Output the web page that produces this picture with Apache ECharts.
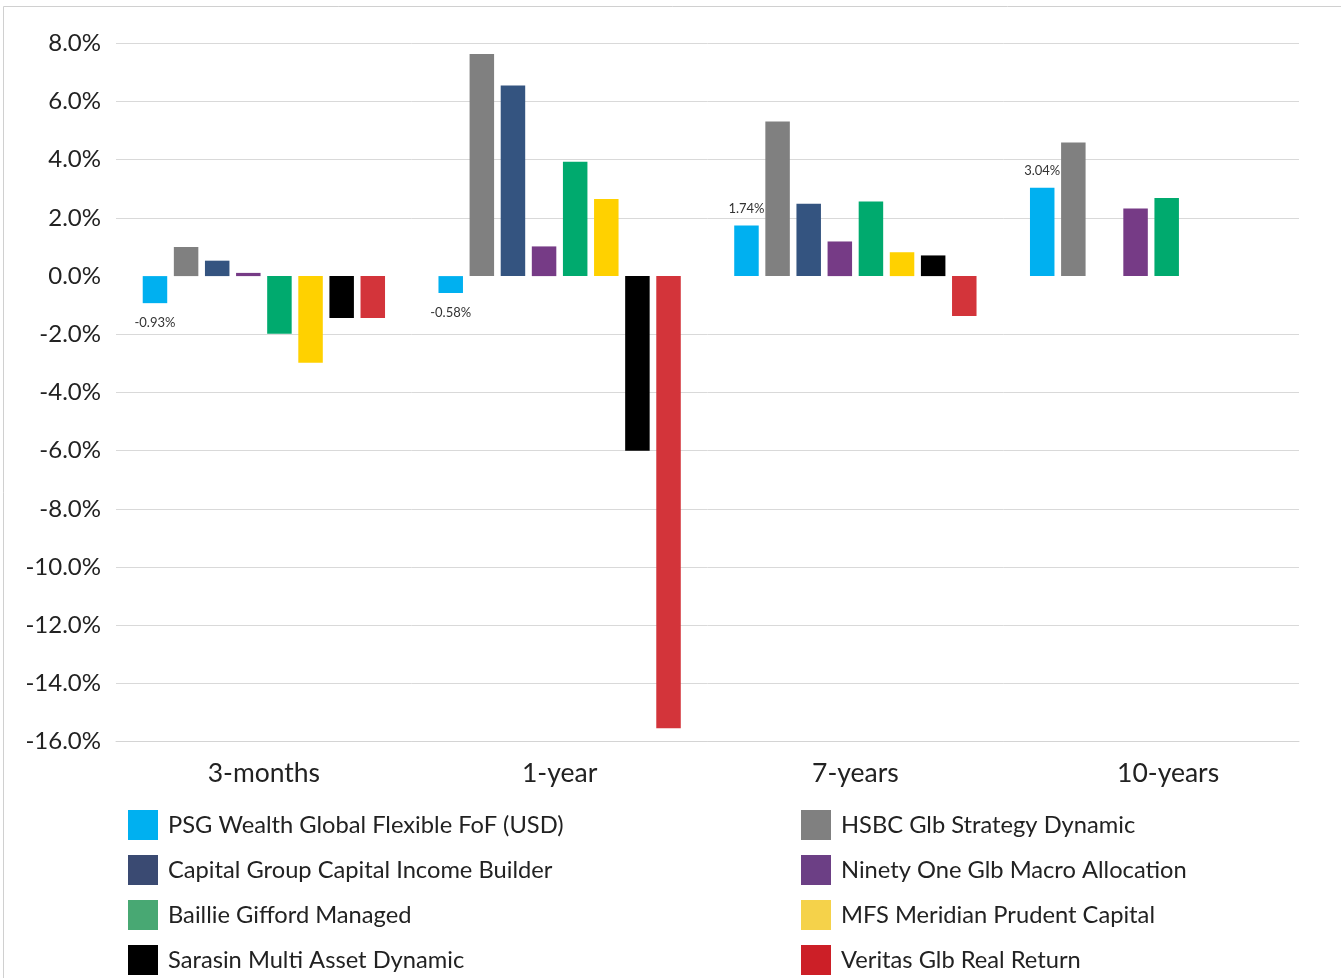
<!DOCTYPE html>
<html>
<head>
<meta charset="utf-8">
<script src="https://cdn.jsdelivr.net/npm/echarts@6/dist/echarts.min.js"></script>
<style>
html,body{margin:0;padding:0;background:#fff;}
#chart{width:1341px;height:978px;}
</style>
</head>
<body>
<div id="chart"></div>
<script>
const categories = ['3-months', '1-year', '7-years', '10-years'];
const seriesNames = [
  'PSG Wealth Global Flexible FoF (USD)',
  'HSBC Glb Strategy Dynamic',
  'Capital Group Capital Income Builder',
  'Ninety One Glb Macro Allocation',
  'Baillie Gifford Managed',
  'MFS Meridian Prudent Capital',
  'Sarasin Multi Asset Dynamic',
  'Veritas Glb Real Return'
];
const psg = [-0.93, -0.58, 1.74, 3.04];
const hsbc = [1.00, 7.63, 5.31, 4.59];
const capital = [0.53, 6.55, 2.49, null];
const ninety = [0.11, 1.02, 1.19, 2.32];
const baillie = [-1.98, 3.93, 2.56, 2.68];
const mfs = [-2.98, 2.65, 0.82, null];
const sarasin = [-1.44, -6.00, 0.71, null];
const veritas = [-1.44, -15.54, -1.37, null];
const barColors = ['#00B0F0', '#808080', '#345480', '#763B86', '#00AA6E', '#FFD100', '#000000', '#D3343A'];
const legendColors = ['#00B0F0', '#808080', '#3A4A72', '#6C3F85', '#48A873', '#F5D24A', '#000000', '#CC1F27'];
const yMin = -16, yMax = 8, yStep = 2;

const allValues = [psg, hsbc, capital, ninety, baillie, mfs, sarasin, veritas];
const FONT = 'Lato';

const chart = echarts.init(document.getElementById('chart'));

const series = allValues.map((vals, i) => {
  const s = {
    name: seriesNames[i],
    type: 'bar',
    data: vals.map(v => v),
    barWidth: 24.5,
    barGap: '27%',
    itemStyle: { color: barColors[i] },
    emphasis: { disabled: true }
  };
  if (i === 0) {
    s.data = vals.map(v => ({
      value: v,
      label: {
        show: true,
        position: v < 0 ? 'bottom' : 'top',
        distance: v < 0 ? 13 : 10,
        formatter: p => p.value.toFixed(2) + '%',
        fontFamily: FONT,
        fontSize: 13,
        color: '#333'
      }
    }));
    s.markLine = {
      silent: true,
      symbol: 'none',
      z: 1,
      label: { show: false },
      lineStyle: { color: '#ffffff', width: 3, type: 'solid' },
      data: [{ yAxis: 0 }]
    };
  }
  return s;
});

const legendItem = i => ({ name: seriesNames[i], itemStyle: { color: legendColors[i] } });
const legendCommon = {
  orient: 'vertical',
  top: 810,
  padding: 0,
  itemWidth: 30,
  itemHeight: 30,
  itemGap: 15,
  icon: 'rect',
  selectedMode: false,
  textStyle: { fontFamily: FONT, fontSize: 23.7, color: '#222', padding: [0, 0, 0, 5] }
};

chart.setOption({
  animation: false,
  backgroundColor: '#ffffff',
  graphic: [{
    type: 'rect',
    shape: { x: 3.5, y: 6.5, width: 1500, height: 1200 },
    style: { fill: 'none', stroke: '#d0d0d0', lineWidth: 1 },
    silent: true
  }],
  grid: { left: 116, right: 42, top: 43.3, bottom: 236.3, containLabel: false },
  legend: [
    Object.assign({}, legendCommon, { left: 128, data: [0, 2, 4, 6].map(legendItem) }),
    Object.assign({}, legendCommon, { left: 801, data: [1, 3, 5, 7].map(legendItem) })
  ],
  xAxis: {
    type: 'category',
    data: categories,
    axisLine: { onZero: false, lineStyle: { color: '#d4d4d4', width: 1 } },
    axisTick: { show: false },
    axisLabel: {
      margin: 18,
      fontFamily: FONT,
      fontSize: 26.5,
      color: '#222',
      formatter: v => v === '10-years' ? '{s|' + v + '}' : v,
      rich: { s: { fontFamily: FONT, fontSize: 26.5, color: '#222', padding: [0, 0, 0, 34] } }
    }
  },
  yAxis: {
    type: 'value',
    min: yMin,
    max: yMax,
    interval: yStep,
    axisLine: { show: false },
    axisTick: { show: false },
    splitLine: { lineStyle: { color: '#d9d9d9', width: 1 } },
    axisLabel: {
      margin: 15,
      fontFamily: FONT,
      fontSize: 24,
      color: '#222',
      formatter: v => v.toFixed(1) + '%'
    }
  },
  series: series
});
</script>
</body>
</html>
